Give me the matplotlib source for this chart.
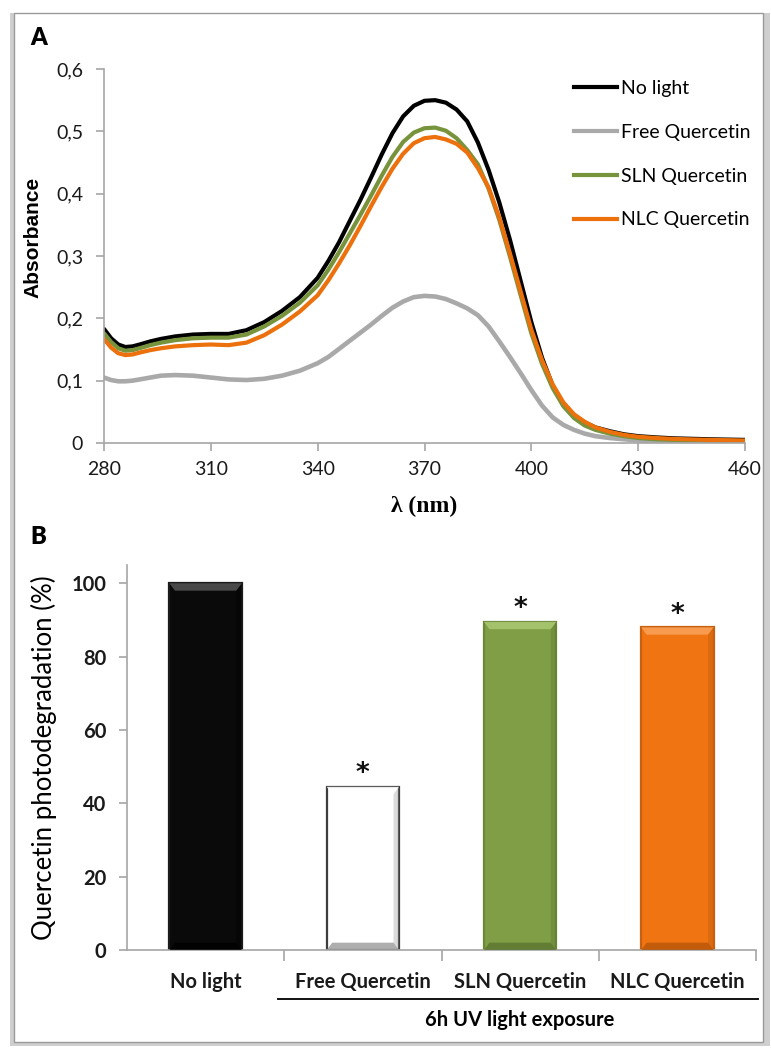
import numpy as np
import matplotlib.pyplot as plt
from matplotlib.lines import Line2D
from matplotlib.patches import Rectangle, Polygon
from matplotlib.ticker import FuncFormatter
import matplotlib.transforms as mtransforms

# UV-vis spectra (absorbance), denser sampling around the band
wavelength = [280, 282, 284, 286, 288, 290, 293, 296, 300, 305,
              310, 315, 320, 325, 330, 335, 340, 343, 346, 349,
              352, 355, 358, 361, 364, 367, 370, 373, 376, 379,
              382, 385, 388, 391, 394, 397, 400, 403, 406, 409,
              412, 415, 418, 422, 426, 430, 435, 440, 450, 460]
no_light = [0.183, 0.168, 0.158, 0.154, 0.155, 0.158, 0.163, 0.167, 0.171, 0.174,
            0.175, 0.175, 0.181, 0.194, 0.212, 0.234, 0.265, 0.292, 0.322, 0.356,
            0.390, 0.426, 0.463, 0.497, 0.524, 0.541, 0.549, 0.550, 0.546, 0.535,
            0.516, 0.482, 0.438, 0.386, 0.326, 0.260, 0.194, 0.137, 0.092, 0.062,
            0.044, 0.033, 0.025, 0.019, 0.014, 0.011, 0.009, 0.0075, 0.006, 0.005]
free_q = [0.105, 0.101, 0.099, 0.099, 0.100, 0.102, 0.105, 0.108, 0.109, 0.108,
          0.105, 0.102, 0.101, 0.103, 0.108, 0.116, 0.128, 0.138, 0.151, 0.164,
          0.177, 0.190, 0.204, 0.217, 0.227, 0.234, 0.236, 0.235, 0.231, 0.224,
          0.216, 0.205, 0.187, 0.163, 0.138, 0.112, 0.085, 0.060, 0.041, 0.029,
          0.021, 0.015, 0.011, 0.008, 0.006, 0.004, 0.003, 0.003, 0.002, 0.002]
sln_q = [0.176, 0.162, 0.152, 0.148, 0.149, 0.152, 0.157, 0.161, 0.165, 0.168,
         0.169, 0.169, 0.174, 0.187, 0.204, 0.225, 0.253, 0.278, 0.306, 0.336,
         0.366, 0.397, 0.429, 0.459, 0.483, 0.498, 0.505, 0.506, 0.501, 0.489,
         0.470, 0.447, 0.408, 0.358, 0.299, 0.237, 0.176, 0.127, 0.088, 0.059,
         0.040, 0.028, 0.021, 0.015, 0.011, 0.008, 0.006, 0.005, 0.004, 0.003]
nlc_q = [0.167, 0.153, 0.144, 0.141, 0.142, 0.145, 0.149, 0.152, 0.155, 0.157,
         0.158, 0.157, 0.161, 0.173, 0.190, 0.211, 0.237, 0.261, 0.288, 0.317,
         0.348, 0.380, 0.411, 0.440, 0.464, 0.481, 0.489, 0.491, 0.487, 0.480,
         0.466, 0.441, 0.410, 0.362, 0.304, 0.243, 0.182, 0.133, 0.094, 0.065,
         0.046, 0.034, 0.025, 0.018, 0.013, 0.010, 0.008, 0.0065, 0.005, 0.004]

# photodegradation bar chart
groups = ['No light', 'Free Quercetin', 'SLN Quercetin', 'NLC Quercetin']
percent = [100, 44.5, 89.5, 88.0]
signif = [False, True, True, True]

c_black = '#000000'
c_gray = '#a9a9a9'
c_green = '#77933c'
c_orange = '#ec700c'
axis_col = '#a6a6a6'
sans = 'Lato'

fig = plt.figure(figsize=(7.71, 10.48), dpi=100)
W, H = 771.0, 1048.0

# outer frame with a soft shadow
fig.add_artist(Rectangle((10 / W, 1 - 1046 / H), 760 / W, 1033 / H,
                         transform=fig.transFigure, fc='#cfcfcf', ec='none', zorder=-10))
fig.add_artist(Rectangle((14 / W, 1 - 1042 / H), 749 / W, 1029 / H,
                         transform=fig.transFigure, fc='white', ec='#9a9a9a', lw=1,
                         zorder=-9))

# ---- panel A ----
ax1 = fig.add_axes([104 / W, 1 - 443 / H, 641 / W, 374 / H])
ax1.patch.set_visible(False)
lw = 3.0
ax1.plot(wavelength, no_light, color=c_black, lw=lw, solid_capstyle='round', solid_joinstyle='round')
ax1.plot(wavelength, free_q, color=c_gray, lw=lw + 0.3, solid_capstyle='round', solid_joinstyle='round')
ax1.plot(wavelength, sln_q, color=c_green, lw=lw, solid_capstyle='round', solid_joinstyle='round')
ax1.plot(wavelength, nlc_q, color=c_orange, lw=lw, solid_capstyle='round', solid_joinstyle='round')
ax1.set_xlim(280, 460)
ax1.set_ylim(0, 0.6)
ax1.set_xticks(range(280, 461, 30))
ax1.set_yticks(np.arange(0, 0.61, 0.1))
ax1.yaxis.set_major_formatter(FuncFormatter(lambda v, p: '0' if v == 0 else f'{v:.1f}'.replace('.', ',')))
for s in ['top', 'right']:
    ax1.spines[s].set_visible(False)
for s in ['left', 'bottom']:
    ax1.spines[s].set_color(axis_col)
    ax1.spines[s].set_linewidth(1.2)
ax1.tick_params(axis='both', colors=axis_col, length=6, width=1.2, labelcolor='#1a1a1a',
                labelsize=14)
ax1.tick_params(axis='y', pad=9)
ax1.tick_params(axis='x', pad=7)
for lab in ax1.get_xticklabels() + ax1.get_yticklabels():
    lab.set_family(sans)
ax1.set_ylabel('Absorbance', family='Liberation Sans', fontweight='bold', fontsize=15)
ax1.yaxis.set_label_coords(-62 / 641, 0.55)
ax1.set_xlabel('λ (nm)', family='Liberation Serif', fontweight='bold', fontsize=17)
ax1.xaxis.set_label_coords(0.5, -53 / 374)

handles = [Line2D([], [], color=c, lw=lw) for c in [c_black, c_gray, c_green, c_orange]]
leg = ax1.legend(handles, ['No light', 'Free Quercetin', 'SLN Quercetin', 'NLC Quercetin'],
                 loc='upper left', bbox_to_anchor=(574 / W, 1 - 80 / H),
                 bbox_transform=fig.transFigure, frameon=False, handlelength=2.2,
                 handletextpad=0.2, labelspacing=1.38, borderpad=0, borderaxespad=0,
                 prop={'family': sans, 'size': 14})

fig.text(30 / W, 1 - 38 / H, 'A', family=sans, fontweight='heavy', fontsize=17,
         va='center', ha='left')

# ---- panel B ----
ax2 = fig.add_axes([127 / W, 1 - 950 / H, 629 / W, 385 / H])
ax2.patch.set_visible(False)
xpos = np.arange(len(groups))
bw = 0.46
faces = ['#0a0a0a', '#ffffff', '#7f9e45', '#f07512']
lights = ['#505050', '#ffffff', '#a9c770', '#f9a055']
darks = ['#000000', '#9a9a9a', '#5c7530', '#b85608']
edges = ['#1a1a1a', '#3d3d3d', '#6a8838', '#c96010']
bars = ax2.bar(xpos, percent, width=bw, color=faces, edgecolor=edges, lw=1.6, zorder=2)

# bevelled look on each bar
dx, dy = 0.035, 2.0
for x, h, lt, dk in zip(xpos, percent, lights, darks):
    l, r = x - bw / 2, x + bw / 2
    ax2.add_patch(Polygon([(l, h), (r, h), (r - dx, h - dy), (l + dx, h - dy)],
                          closed=True, fc=lt, ec='none', zorder=3, alpha=0.9))
    ax2.add_patch(Polygon([(l, 0), (r, 0), (r - dx, dy), (l + dx, dy)],
                          closed=True, fc=dk, ec='none', zorder=3, alpha=0.8))
    ax2.add_patch(Polygon([(r, 0), (r, h), (r - dx, h - dy), (r - dx, dy)],
                          closed=True, fc=dk, ec='none', zorder=3, alpha=0.35))

for x, h, s in zip(xpos, percent, signif):
    if s:
        ax2.text(x, h + 3.4, '*', ha='center', va='center', fontsize=19,
                 family='DejaVu Sans', fontweight='bold', color='#111111')

ax2.set_xlim(-0.5, 3.5)
ax2.set_ylim(0, 105)
ax2.set_yticks(range(0, 101, 20))
ax2.set_xticks(xpos)
ax2.set_xticklabels(groups)
ax2.set_xticks([0.5, 1.5, 2.5, 3.5], minor=True)
for s in ['top', 'right']:
    ax2.spines[s].set_visible(False)
for s in ['left', 'bottom']:
    ax2.spines[s].set_color(axis_col)
    ax2.spines[s].set_linewidth(1.2)
ax2.tick_params(axis='x', which='major', length=0, pad=16)
ax2.tick_params(axis='x', which='minor', length=8, width=1.2, colors=axis_col)
ax2.tick_params(axis='y', length=6, width=1.2, colors=axis_col, pad=9)
ax2.tick_params(labelcolor='#1a1a1a', labelsize=14.5)
for lab in ax2.get_xticklabels() + ax2.get_yticklabels():
    lab.set_family(sans)
    lab.set_fontweight('bold')
ax2.set_ylabel('Quercetin photodegradation (%)', family=sans, fontsize=18.5)
ax2.yaxis.set_label_coords(-70 / 629, 0.5)

# bracket under the UV-exposed groups
tr = mtransforms.blended_transform_factory(ax2.transData, ax2.transAxes)
ax2.plot([0.46, 3.51], [-49 / 385, -49 / 385], color='#111111', lw=1.4,
         transform=tr, clip_on=False)
ax2.text(2.0, -70 / 385, '6h UV light exposure', transform=tr, ha='center', va='center',
         family=sans, fontweight='bold', fontsize=14.5)

fig.text(30 / W, 1 - 537 / H, 'B', family=sans, fontweight='heavy', fontsize=17,
         va='center', ha='left')

fig.savefig('out.png', dpi=100)
